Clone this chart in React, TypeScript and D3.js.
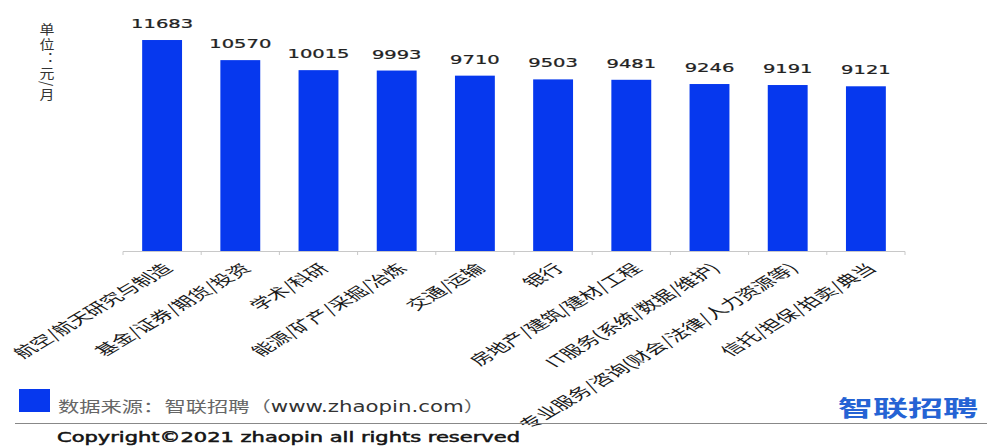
import React, { useEffect, useRef } from 'react';
import * as d3 from 'd3';

const industries = [
  '航空/航天研究与制造',
  '基金/证券/期货/投资',
  '学术/科研',
  '能源/矿产/采掘/冶炼',
  '交通/运输',
  '银行',
  '房地产/建筑/建材/工程',
  'IT服务(系统/数据/维护)',
  '专业服务/咨询(财会/法律/人力资源等)',
  '信托/担保/拍卖/典当',
];
const salaries = [11683, 10570, 10015, 9993, 9710, 9503, 9481, 9246, 9191, 9121];
const unitLabel = '单位：元/月';

const W = 987;
const H = 446;
const BAR = '#0638ee';

function SalaryChart() {
  const svgRef = useRef(null);

  useEffect(() => {
    const svg = d3.select(svgRef.current);
    svg.selectAll('*').remove();

    const x = d3.scaleBand().domain(industries).range([123, 905]).paddingInner(0.49).paddingOuter(0.245);
    const y = d3.scaleLinear().domain([0, 12000]).range([251, 34.3]);

    // axis line + ticks between categories
    svg.append('line')
      .attr('x1', 123).attr('x2', 905).attr('y1', 251.5).attr('y2', 251.5)
      .attr('stroke', '#c8c8c8');
    const edges = industries.map((d) => x(d) - (x.step() - x.bandwidth()) / 2).concat([905]);
    svg.selectAll('line.tick').data(edges).join('line')
      .attr('class', 'tick')
      .attr('x1', (d) => d).attr('x2', (d) => d)
      .attr('y1', 251.5).attr('y2', 255)
      .attr('stroke', '#c8c8c8');

    svg.selectAll('rect.bar').data(salaries).join('rect')
      .attr('class', 'bar')
      .attr('x', (d, i) => x(industries[i]))
      .attr('y', (d) => y(d))
      .attr('width', x.bandwidth())
      .attr('height', (d) => y(0) - y(d))
      .attr('fill', BAR);

    // value labels (the source picture is stretched horizontally)
    svg.selectAll('text.val').data(salaries).join('text')
      .attr('class', 'val')
      .attr('transform', (d, i) => `translate(${x(industries[i]) + x.bandwidth() / 2},${y(d) - 12}) scale(1.5,1)`)
      .attr('text-anchor', 'middle')
      .attr('font-family', 'DejaVu Sans')
      .attr('font-size', 13)
      .attr('fill', '#222')
      .attr('stroke', '#222')
      .attr('stroke-width', 0.25)
      .text((d) => d);

    // rotated category labels
    svg.selectAll('text.cat').data(industries).join('text')
      .attr('class', 'cat')
      .attr('transform', (d) => `translate(${x(d) + x.bandwidth() / 2 + 6},${266}) scale(1.68,1) rotate(-45)`)
      .attr('text-anchor', 'end')
      .attr('dy', '0.35em')
      .attr('font-family', 'Noto Sans CJK SC')
      .attr('font-size', 13.5)
      .attr('fill', '#1a1a1a')
      .text((d) => d);

    // unit label, written vertically
    svg.append('text')
      .attr('transform', 'translate(47,23) scale(1.15,1)')
      .style('writing-mode', 'vertical-rl')
      .attr('font-family', 'Noto Sans CJK SC')
      .attr('font-size', 13)
      .attr('letter-spacing', 1.5)
      .attr('fill', '#333')
      .text(unitLabel);

    // legend
    svg.append('rect').attr('x', 19).attr('y', 389).attr('width', 31).attr('height', 23).attr('fill', BAR);
    const leg = svg.append('text')
      .attr('x', 58).attr('y', 412)
      .attr('font-family', 'Noto Sans CJK SC')
      .attr('font-size', 15)
      .attr('textLength', 427)
      .attr('lengthAdjust', 'spacingAndGlyphs')
      .attr('fill', '#666');
    leg.append('tspan').text('数据来源：智联招聘（');
    leg.append('tspan').attr('fill', '#333').attr('font-family', 'DejaVu Sans').text('www.zhaopin.com');
    leg.append('tspan').text('）');

    svg.append('line')
      .attr('x1', 15).attr('x2', W).attr('y1', 423.5).attr('y2', 423.5)
      .attr('stroke', '#888');

    svg.append('text')
      .attr('x', 57).attr('y', 442)
      .attr('font-family', 'DejaVu Sans')
      .attr('font-size', 14)
      .attr('textLength', 463)
      .attr('lengthAdjust', 'spacingAndGlyphs')
      .attr('fill', '#151515')
      .attr('stroke', '#151515')
      .attr('stroke-width', 0.5)
      .text('Copyright©2021 zhaopin all rights reserved');

    svg.append('text')
      .attr('x', 838).attr('y', 416)
      .attr('font-family', 'Noto Sans CJK SC')
      .attr('font-size', 22)
      .attr('font-weight', 700)
      .attr('textLength', 140)
      .attr('lengthAdjust', 'spacingAndGlyphs')
      .attr('fill', '#2563d4')
      .text('智联招聘');
  }, []);

  return (
    <svg
      ref={svgRef}
      width={W}
      height={H}
      style={{ position: 'absolute', left: 0, top: 0, background: '#fff' }}
      xmlns="http://www.w3.org/2000/svg"
    />
  );
}

export default function App() {
  return <SalaryChart />;
}
